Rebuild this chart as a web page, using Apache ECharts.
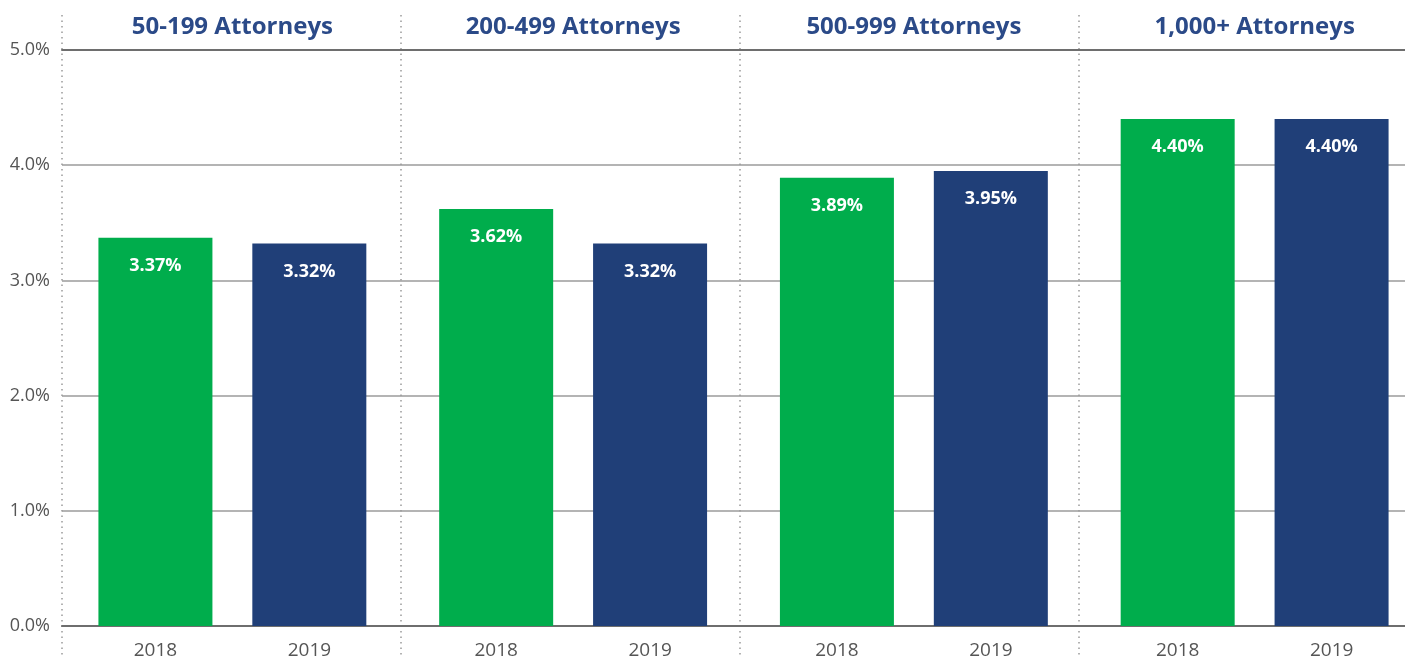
<!DOCTYPE html>
<html>
<head>
<meta charset="utf-8">
<script src="https://cdn.jsdelivr.net/npm/echarts@6/dist/echarts.min.js"></script>
<style>
  html, body { margin: 0; padding: 0; background: #fff; }
  #chart { width: 1405px; height: 658px; }
</style>
</head>
<body>
<div id="chart"></div>
<script>
// firm size groups and years
var groups = ['50-199 Attorneys', '200-499 Attorneys', '500-999 Attorneys', '1,000+ Attorneys'];
var years = ['2018', '2019'];
var values2018 = [3.37, 3.62, 3.89, 4.40];
var values2019 = [3.32, 3.32, 3.95, 4.40];
var yTicks = [0, 1, 2, 3, 4, 5];

var FONT = '"Open Sans", Lato, sans-serif';

function valueLabel() {
  return {
    show: true,
    position: 'insideTop',
    distance: 19,
    color: '#fff',
    fontFamily: FONT,
    fontWeight: 'bold',
    fontSize: 18,
    formatter: function (p) { return p.value.toFixed(2) + '%'; }
  };
}

var chart = echarts.init(document.getElementById('chart'));
chart.setOption({
  animation: false,
  grid: [
    { left: 62, width: 1363, top: 50, bottom: 32, outerBoundsMode: 'none', containLabel: false },
    // only for the dotted group separators, which run the full height
    { left: 62, width: 1356, top: 15, bottom: 0, outerBoundsMode: 'none', containLabel: false }
  ],
  xAxis: [
    {
      type: 'category', gridIndex: 0, position: 'bottom', data: groups,
      axisLine: { lineStyle: { color: '#6e6e6e', width: 2 } },
      axisTick: { show: false },
      axisLabel: {
        margin: 15,
        formatter: function () { return '{a|' + years[0] + '}{b|' + years[1] + '}'; },
        rich: {
          a: { width: 154, align: 'center', fontSize: 19, color: '#555', fontFamily: FONT },
          b: { width: 154, align: 'center', fontSize: 19, color: '#555', fontFamily: FONT }
        }
      }
    },
    {
      type: 'category', gridIndex: 0, position: 'top', data: groups,
      axisLine: { lineStyle: { color: '#6e6e6e', width: 2 } },
      axisTick: { show: false },
      axisLabel: { margin: 11, color: '#2b4a88', fontFamily: FONT, fontWeight: 'bold', fontSize: 24 }
    },
    {
      type: 'category', gridIndex: 1, data: groups,
      axisLine: { show: false }, axisTick: { show: false }, axisLabel: { show: false },
      splitLine: { show: true, interval: 0, lineStyle: { color: '#9a9a9a', type: [1.5, 4], width: 1.5 } }
    }
  ],
  yAxis: [
    {
      type: 'value', gridIndex: 0, min: 0, max: 5, interval: 1,
      axisLine: { show: false }, axisTick: { show: false },
      axisLabel: {
        margin: 12, color: '#555', fontFamily: FONT, fontSize: 18,
        formatter: function (v) { return yTicks.indexOf(v) >= 0 ? v.toFixed(1) + '%' : ''; }
      },
      splitLine: { lineStyle: { color: '#b4b4b4', width: 2 } }
    },
    { type: 'value', gridIndex: 1, show: false, min: 0, max: 1, splitLine: { show: false } }
  ],
  series: [
    {
      name: years[0], type: 'bar', xAxisIndex: 0, yAxisIndex: 0,
      data: values2018, barWidth: 114, barGap: '35%',
      itemStyle: { color: '#00ad4c' },
      label: valueLabel()
    },
    {
      name: years[1], type: 'bar', xAxisIndex: 0, yAxisIndex: 0,
      data: values2019, barWidth: 114, barGap: '35%',
      itemStyle: { color: '#203f78' },
      label: valueLabel()
    }
  ]
});
</script>
</body>
</html>
